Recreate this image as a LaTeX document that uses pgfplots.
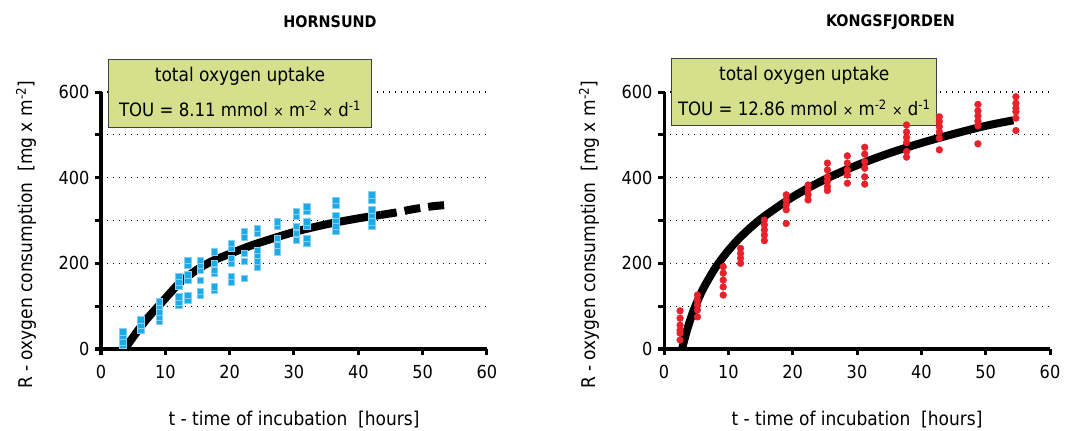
\documentclass[border=0pt]{standalone}
\usepackage{pgfplots}
\pgfplotsset{compat=1.18}
\usepackage{fontspec}
\setmainfont{DejaVu Sans Condensed}
\definecolor{hblue}{HTML}{1EAAE7}
\definecolor{kred}{HTML}{E8212B}
\definecolor{boxgreen}{HTML}{D5E08D}
\pgfplotsset{oxy/.style={
  scale only axis, width=386bp, height=257bp,
  xmin=0, xmax=60, ymin=0, ymax=600,
  axis x line=bottom, axis y line=left,
  axis line style={-, line width=3bp, black},
  xtick={0,10,...,60}, ytick={0,200,400,600}, minor ytick={100,300,500},
  tick align=outside, major tick length=6bp, minor tick length=6bp,
  tick style={black, line width=3bp},
  ymajorgrids, yminorgrids,
  major grid style={black, line width=1.3bp, dash pattern=on 1.3bp off 4.7bp},
  minor grid style={black, line width=1.3bp, dash pattern=on 1.3bp off 4.7bp},
  ticklabel style={font=\fontsize{18}{20}\selectfont},
  xticklabel style={yshift=-7bp},
  yticklabel style={xshift=-2bp},
  /pgf/number format/assume math mode=true,
  clip=false,
  xlabel={t - time of incubation\ \ [hours]},
  ylabel={R - oxygen consumption\ \ [mg x m\textsuperscript{-2}]},
  every axis x label/.style={at={(axis description cs:0.5,-0.276)}, anchor=center, font=\fontsize{19}{20}\selectfont},
  every axis y label/.style={at={(axis description cs:-0.194,0.444)}, rotate=90, anchor=center, font=\fontsize{19}{20}\selectfont},
}}
\begin{document}
\begin{tikzpicture}
\path[use as bounding box] (0,0) rectangle (1066bp,431bp);
% HORNSUND
\begin{axis}[oxy, at={(101bp,82bp)}, anchor=south west]
\draw[draw=black!75, line width=1bp, fill=boxgreen] (axis cs:1.1,518) rectangle (axis cs:42.1,675);
\node[font=\fontsize{19}{20}\selectfont] at (axis cs:21.6,637) {total oxygen uptake};
\node[font=\fontsize{18.5}{20}\selectfont] at (axis cs:21.6,560) {TOU = 8.11 mmol {\fontsize{14}{14}\selectfont ×} m\textsuperscript{-2} {\fontsize{14}{14}\selectfont ×} d\textsuperscript{-1}};
\node[font=\bfseries\fontsize{16}{16}\selectfont] at (axis cs:35.6,763) {HORNSUND};
\addplot[black, line width=8bp, smooth, no marks] coordinates {
(3.7,0) (5,28) (6.8,64) (8,85) (9.4,108) (11,135) (12.5,158) (15,186) (17.5,207) (20,222) (22.5,237) (25,250) (30,273) (35,291) (40,305) (43.5,313)};
\addplot[black, line width=8bp, smooth, no marks, dash pattern=on 16bp off 8bp] coordinates {
(43.5,313) (46,319) (48,325) (50,330) (52,334) (54.4,337)};
\addplot[only marks, mark=square*, mark size=3.1bp, mark options={fill=hblue, draw=hblue!55!white, line width=0.6bp}] coordinates {
(3.4,10) (3.4,17) (3.4,29) (3.4,40)
(6.2,44) (6.2,56) (6.2,68)
(9.1,65) (9.1,75) (9.1,87) (9.1,99) (9.1,110)
(12.1,103) (12.1,110) (12.1,122) (12.1,146) (12.1,157) (12.1,169)
(13.5,114) (13.5,126) (13.5,161) (13.5,173) (13.5,196) (13.5,208)
(15.4,126) (15.4,134) (15.4,161) (15.4,184) (15.4,196) (15.4,208)
(17.6,138) (17.6,145) (17.6,177) (17.6,184) (17.6,200) (17.6,227)
(20.2,157) (20.2,169) (20.2,200) (20.2,212) (20.2,235) (20.2,247)
(22.3,165) (22.3,204) (22.3,223) (22.3,262) (22.3,274)
(24.3,192) (24.3,204) (24.3,219) (24.3,231) (24.3,270) (24.3,282)
(27.4,227) (27.4,243) (27.4,258) (27.4,286) (27.4,297)
(30.3,254) (30.3,270) (30.3,286) (30.3,310) (30.3,321)
(32.0,247) (32.0,258) (32.0,286) (32.0,297) (32.0,321) (32.0,332)
(36.5,274) (36.5,286) (36.5,301) (36.5,313) (36.5,336) (36.5,348)
(42.1,286) (42.1,297) (42.1,313) (42.1,325) (42.1,348) (42.1,360)
};
\end{axis}
% KONGSFJORDEN
\begin{axis}[oxy, at={(664bp,82bp)}, anchor=south west]
\draw[draw=black!75, line width=1bp, fill=boxgreen] (axis cs:1.24,521) rectangle (axis cs:42.4,679);
\node[font=\fontsize{19}{20}\selectfont] at (axis cs:21.8,640) {total oxygen uptake};
\node[font=\fontsize{18.5}{20}\selectfont] at (axis cs:21.8,563) {TOU = 12.86 mmol {\fontsize{14}{14}\selectfont ×} m\textsuperscript{-2} {\fontsize{14}{14}\selectfont ×} d\textsuperscript{-1}};
\node[font=\bfseries\fontsize{16}{16}\selectfont] at (axis cs:35.2,763) {KONGSFJORDEN};
\addplot[black, line width=8bp, smooth, no marks] coordinates {
(2.8,0) (3.5,40) (4.5,86) (6,138) (8,190) (10,230) (12,263) (15,303) (20,355) (25,396) (30,429) (35,457) (40,481) (45,502) (50,521) (54.3,534)};
\addplot[only marks, mark=*, mark size=3.4bp, mark options={fill=kred, draw=kred}] coordinates {
(2.5,21) (2.5,37) (2.5,44) (2.5,56) (2.5,72) (2.5,89)
(5.2,75) (5.2,91) (5.2,103) (5.2,114) (5.2,126)
(9.2,126) (9.2,145) (9.2,161) (9.2,177) (9.2,192)
(11.9,200) (11.9,212) (11.9,223) (11.9,235)
(15.6,253) (15.6,266) (15.6,278) (15.6,290) (15.6,301)
(19.0,293) (19.0,325) (19.0,336) (19.0,348) (19.0,360)
(22.4,348) (22.4,360) (22.4,371) (22.4,383)
(25.4,370) (25.4,379) (25.4,391) (25.4,402) (25.4,418) (25.4,434)
(28.5,387) (28.5,406) (28.5,418) (28.5,434) (28.5,451)
(31.2,385) (31.2,402) (31.2,422) (31.2,437) (31.2,455) (31.2,471)
(37.7,448) (37.7,461) (37.7,482) (37.7,494) (37.7,507) (37.7,523)
(42.8,465) (42.8,492) (42.8,507) (42.8,519) (42.8,531) (42.8,542)
(48.8,479) (48.8,521) (48.8,532) (48.8,544) (48.8,556) (48.8,571)
(54.7,510) (54.7,539) (54.7,554) (54.7,562) (54.7,574) (54.7,589)
};
\end{axis}
\end{tikzpicture}
\end{document}
